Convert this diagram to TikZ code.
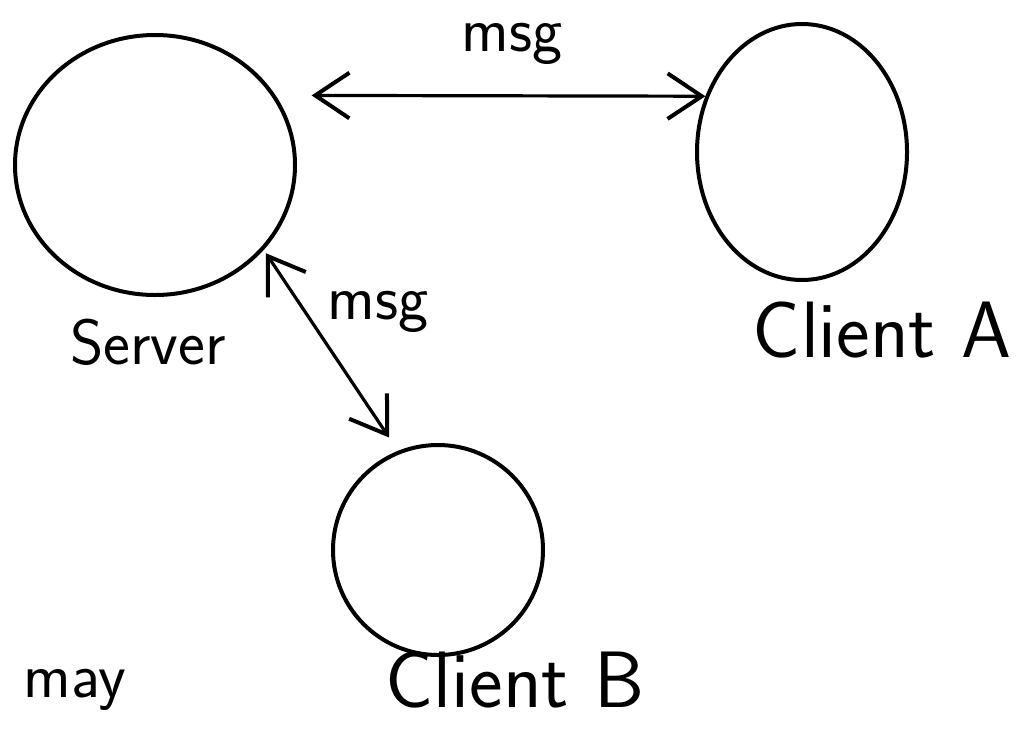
\documentclass[tikz,border=0pt]{standalone}
\usepackage{xcolor}
\usepackage{tikz}
\usetikzlibrary{positioning,shapes.geometric,arrows.meta}
\definecolor{ink}{HTML}{000000}
\definecolor{paper}{HTML}{FFFFFF}
\tikzset{
  blob/.style    = {draw=ink, ellipse, line width=2pt, inner sep=0pt},
  hand/.style    = {font=\fontsize{40}{44}\selectfont\sffamily\color{ink}, inner sep=0pt, outer sep=0pt},
  handsrv/.style = {font=\fontsize{32}{36}\selectfont\sffamily\color{ink}, inner sep=0pt, outer sep=0pt},
  handsm/.style  = {font=\fontsize{32}{36}\selectfont\sffamily\color{ink}, inner sep=0pt, outer sep=0pt},
  msgline/.style = {{Straight Barb[length=6mm,width=8mm,line width=2pt]}-{Straight Barb[length=6mm,width=8mm,line width=2pt]}, draw=ink, line width=1.6pt},
}

\begin{document}
\begin{tikzpicture}[x=0.5pt,y=-0.5pt]
\path[use as bounding box, fill=paper] (0,0) rectangle (1036,739);

% ---- the three parties --------------------------------------------------
\node[blob, minimum width=140pt, minimum height=130pt] (server)  at (155,165) {};
\node[blob, minimum width=105pt, minimum height=128pt] (clientA) at (802,152) {};
\node[blob, minimum width=105pt, minimum height=105pt] (clientB) at (438,550) {};

\node[handsrv] (serverlab)  at (148,342) {Server};
\node[hand] (clientAlab) at (882,330) {Client A};
\node[hand] (clientBlab) at (515,680) {Client B};

% ---- messages -----------------------------------------------------------
\draw[msgline, shorten <=18pt] (server.30) -- (clientA.150);
\node[handsm] (msgtop) at (512,44) {msg};

\draw[msgline, shorten <=2pt, shorten >=8pt] (server.-38) -- (clientB.112);
\node[handsm] (msgdiag) at (378,312) {msg};

% ---- note ---------------------------------------------------------------
\node[handsm] (note) at (75,690) {may};

\end{tikzpicture}
\end{document}
